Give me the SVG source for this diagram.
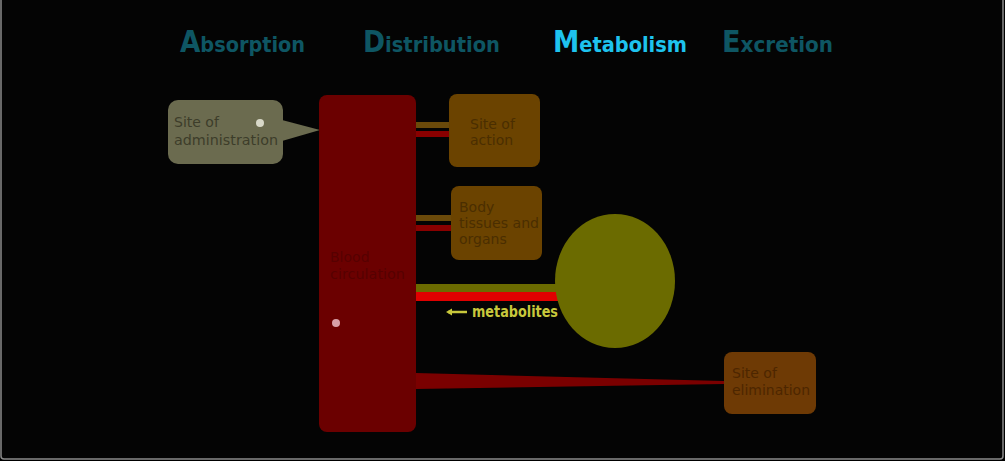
<svg xmlns="http://www.w3.org/2000/svg" width="1005" height="461" viewBox="0 0 1005 461">
<style>
.title{font-family:"DejaVu Sans Condensed","DejaVu Sans","Liberation Sans",sans-serif;font-size:22px;font-weight:bold;}
.big{font-size:30px;}
.lbl{font-family:"DejaVu Sans","Liberation Sans",sans-serif;font-size:14px;}
</style>
<rect x="0" y="0" width="1005" height="461" fill="#000"/>
<rect x="1" y="-6" width="1002" height="465" rx="3" fill="#040404" stroke="#8a8a8a" stroke-width="1.5"/>
<g id="titles">
<text class="title" x="180" y="52" fill="#0e5663" textLength="125" lengthAdjust="spacingAndGlyphs"><tspan class="big">A</tspan>bsorption</text>
<text class="title" x="363" y="52" fill="#0e5663" textLength="137" lengthAdjust="spacingAndGlyphs"><tspan class="big">D</tspan>istribution</text>
<text class="title" x="553" y="52" fill="#1ec3ee" textLength="134" lengthAdjust="spacingAndGlyphs"><tspan class="big">M</tspan>etabolism</text>
<text class="title" x="722" y="52" fill="#0e5663" textLength="111" lengthAdjust="spacingAndGlyphs"><tspan class="big">E</tspan>xcretion</text>
</g>
<g id="connectors">
<path d="M416,373 L724,381 L724,384 L416,389 Z" fill="#7a0000"/>
<rect x="416" y="122" width="34" height="6" fill="#6b4a0a"/>
<rect x="416" y="131" width="34" height="6" fill="#8a0000"/>
<rect x="416" y="215" width="36" height="6" fill="#6b4a0a"/>
<rect x="416" y="225" width="36" height="6" fill="#8a0000"/>
<rect x="416" y="284" width="150" height="8" fill="#6b6b00"/>
<rect x="416" y="292" width="146" height="9" fill="#e00000"/>
</g>
<g id="site-of-administration">
<path d="M282,120 L320,130 L282,141 Z" fill="#6b6b4f"/>
<rect x="168" y="100" width="115" height="64" rx="10" fill="#6b6b4f"/>
<text class="lbl" fill="#3d3d2a"><tspan x="174" y="127">Site of</tspan><tspan x="174" y="145" textLength="104" lengthAdjust="spacingAndGlyphs">administration</tspan></text>
<circle cx="260" cy="123" r="4" fill="#d8d8c8"/>
</g>
<g id="blood-circulation">
<rect x="319" y="95" width="97" height="337" rx="8" fill="#6b0000"/>
<text class="lbl" fill="#560000"><tspan x="330" y="262">Blood</tspan><tspan x="330" y="279" textLength="75" lengthAdjust="spacingAndGlyphs">circulation</tspan></text>
<circle cx="336" cy="323" r="4" fill="#d8a0a8"/>
</g>
<g id="site-of-action">
<rect x="449" y="94" width="91" height="73" rx="8" fill="#6b4300"/>
<text class="lbl" fill="#4a2e00"><tspan x="470" y="129">Site of</tspan><tspan x="470" y="145">action</tspan></text>
</g>
<g id="body-tissues">
<rect x="451" y="186" width="91" height="74" rx="8" fill="#6b4300"/>
<text class="lbl" fill="#4a2e00"><tspan x="459" y="212">Body</tspan><tspan x="459" y="228" textLength="80" lengthAdjust="spacingAndGlyphs">tissues and</tspan><tspan x="459" y="244">organs</tspan></text>
</g>
<g id="liver">
<ellipse cx="615" cy="281" rx="60" ry="67" fill="#6b6b00"/>
</g>
<g id="metabolites-label">
<path d="M448,312 L467,312" stroke="#c8c83c" stroke-width="2.5"/>
<path d="M446,312 L452,308.5 L452,315.5 Z" fill="#c8c83c"/>
<text x="472" y="317" fill="#c8c83c" font-family="DejaVu Sans Condensed, DejaVu Sans, sans-serif" font-weight="bold" font-size="15" textLength="86" lengthAdjust="spacingAndGlyphs">metabolites</text>
</g>
<g id="site-of-elimination">
<rect x="724" y="352" width="92" height="62" rx="8" fill="#6e3a05"/>
<text class="lbl" fill="#4d2600"><tspan x="732" y="378">Site of</tspan><tspan x="732" y="395" textLength="78" lengthAdjust="spacingAndGlyphs">elimination</tspan></text>
</g>
</svg>
